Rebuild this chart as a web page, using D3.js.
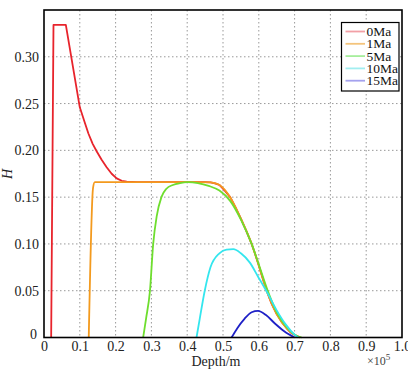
<!DOCTYPE html>
<html><head><meta charset="utf-8">
<script src="https://cdn.jsdelivr.net/npm/d3@7"></script>
<style>body{margin:0;background:#fff}svg{display:block}text{font-family:"Liberation Serif","Times New Roman",serif}</style>
</head><body>
<svg id="c" width="408" height="373"></svg>
<script>
const seriesNames = ["0Ma","1Ma","5Ma","10Ma","15Ma"];
const lineColors = ["#e8242c","#f39a1e","#6ede2e","#34e6ee","#1e20c6"];
const legendColors = ["#f2a0a6","#f4c47c","#a6ee9c","#a2eef0","#a4a2ee"];
const xTicks = [0,0.1,0.2,0.3,0.4,0.5,0.6,0.7,0.8,0.9,1.0];
const xTickLabels = ["0","0.1","0.2","0.3","0.4","0.5","0.6","0.7","0.8","0.9","1.0"];
const yTicks = [0,0.05,0.10,0.15,0.20,0.25,0.30];
const yTickLabels = ["0","0.05","0.10","0.15","0.20","0.25","0.30"];

const s0Ma = [[0.020,0],[0.0265,0.334],[0.061,0.334],[0.100,0.246],[0.112,0.232],[0.124,0.218],[0.136,0.207],[0.147,0.199],[0.161,0.190],[0.175,0.182],[0.189,0.175],[0.203,0.170],[0.217,0.1675],[0.231,0.1665],[0.26,0.166],[0.35,0.166],[0.45,0.166],[0.465,0.1658],[0.478,0.1648],[0.49,0.163],[0.505,0.157],[0.52,0.150],[0.535,0.139],[0.55,0.127],[0.565,0.114],[0.58,0.100],[0.59,0.089],[0.60,0.077],[0.611,0.063],[0.622,0.050],[0.636,0.036],[0.65,0.025],[0.665,0.016],[0.68,0.009],[0.69,0.005],[0.70,0.003],[0.715,0]];
const s1Ma = [[0.125,0],[0.137,0.160],[0.142,0.166],[0.20,0.166],[0.30,0.166],[0.40,0.166],[0.465,0.1658],[0.478,0.1648],[0.49,0.163],[0.52,0.150],[0.55,0.127],[0.58,0.100],[0.60,0.077],[0.622,0.050],[0.65,0.025],[0.68,0.009],[0.70,0.003],[0.715,0]];
const s5Ma = [[0.277,0],[0.285,0.020],[0.296,0.050],[0.305,0.100],[0.315,0.130],[0.328,0.150],[0.342,0.159],[0.36,0.163],[0.38,0.165],[0.40,0.166],[0.43,0.165],[0.46,0.162],[0.49,0.157],[0.52,0.146],[0.55,0.126],[0.58,0.100],[0.60,0.078],[0.625,0.050],[0.65,0.027],[0.68,0.010],[0.70,0.003],[0.72,0]];
const s10Ma = [[0.426,0],[0.435,0.020],[0.449,0.050],[0.465,0.075],[0.49,0.090],[0.51,0.094],[0.529,0.0945],[0.55,0.090],[0.575,0.080],[0.598,0.065],[0.625,0.047],[0.65,0.029],[0.675,0.014],[0.70,0.003],[0.71,0]];
const s15Ma = [[0.524,0],[0.54,0.010],[0.56,0.020],[0.58,0.027],[0.598,0.0285],[0.62,0.024],[0.645,0.015],[0.67,0.007],[0.70,0]];
const seriesData = [s0Ma,s1Ma,s5Ma,s10Ma,s15Ma];

const svg = d3.select("#c");
const L=44,R=402,T=10,B=337.5;
const x = d3.scaleLinear().domain([0,1]).range([L,R]);
const y = d3.scaleLinear().domain([0,0.35]).range([B,T]);
const font = "Liberation Serif, Times New Roman, serif";

// grid
const g = svg.append("g");
g.selectAll(".gx").data(xTicks.slice(1,-1)).enter().append("line")
 .attr("x1",d=>x(d)).attr("x2",d=>x(d)).attr("y1",T).attr("y2",B)
 .attr("stroke","#999").attr("stroke-width",1).attr("stroke-dasharray","1.5,2.5");
g.selectAll(".gy").data(yTicks.slice(1)).enter().append("line")
 .attr("y1",d=>y(d)).attr("y2",d=>y(d)).attr("x1",L).attr("x2",R)
 .attr("stroke","#999").attr("stroke-width",1).attr("stroke-dasharray","1.5,2.5");

// axes (labels)
const xAxis = d3.axisBottom(x).tickValues(xTicks).tickFormat((d,i)=>xTickLabels[i]).tickSize(0).tickPadding(4);
const yAxis = d3.axisLeft(y).tickValues(yTicks).tickFormat((d,i)=>yTickLabels[i]).tickSize(0).tickPadding(5);
const gx = svg.append("g").attr("transform",`translate(0,${B})`).call(xAxis);
const gy = svg.append("g").attr("transform",`translate(${L},0)`).call(yAxis);
[gx,gy].forEach(a=>{a.attr("font-family",font).attr("font-size",14);a.select(".domain").remove();a.selectAll("text").attr("fill","#222");});
gy.selectAll("text").filter(d=>d===0).attr("dy","0.1em").attr("dx","-2");

// lines
const lineLin = d3.line().x(d=>x(d[0])).y(d=>y(d[1])).curve(d3.curveLinear);
const lineSm = d3.line().x(d=>x(d[0])).y(d=>y(d[1])).curve(d3.curveMonotoneX);
seriesData.forEach((s,i)=>{
  svg.append("path").datum(s).attr("d",i===0?lineLin:lineSm).attr("fill","none")
   .attr("stroke",lineColors[i]).attr("stroke-width",1.8).attr("stroke-linejoin","round");
});

// frame
svg.append("rect").attr("x",L).attr("y",T).attr("width",R-L).attr("height",B-T)
 .attr("fill","none").attr("stroke","#000").attr("stroke-width",1.6);

// axis titles
svg.append("text").attr("x",216).attr("y",366).attr("text-anchor","middle")
 .attr("font-family",font).attr("font-size",14).attr("fill","#222").text("Depth/m");
const ex = svg.append("text").attr("x",367).attr("y",365).attr("font-family",font).attr("font-size",12).attr("fill","#444");
ex.append("tspan").text("×10");
ex.append("tspan").attr("dy",-5).attr("font-size",9).text("5");
svg.append("text").attr("transform","translate(12,174) rotate(-90)").attr("text-anchor","middle")
 .attr("font-family",font).attr("font-style","italic").attr("font-size",14).attr("fill","#222").text("H");

// legend
const lg = svg.append("g");
lg.append("rect").attr("x",341.5).attr("y",22.5).attr("width",57.5).attr("height",68.5)
 .attr("fill","#fff").attr("stroke","#000").attr("stroke-width",1.2);
seriesNames.forEach((n,i)=>{
  const yy = 31.5 + i*12.3;
  lg.append("line").attr("x1",345.5).attr("x2",365).attr("y1",yy).attr("y2",yy)
   .attr("stroke",legendColors[i]).attr("stroke-width",1.8);
  lg.append("text").attr("x",366.5).attr("y",yy+4.5).attr("font-family",font).attr("font-size",13.5)
   .attr("fill","#111").text(n);
});
</script>
</body></html>
